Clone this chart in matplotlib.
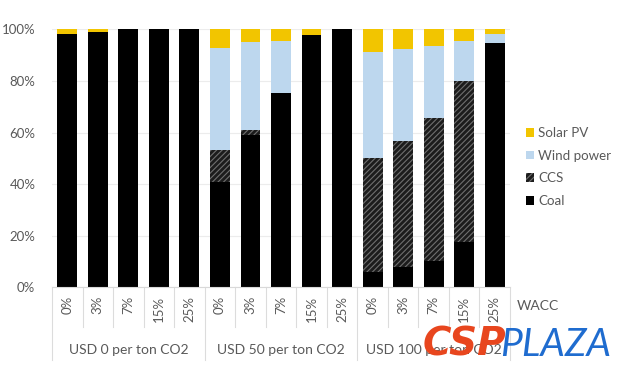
import matplotlib
matplotlib.use("Agg")
import matplotlib.pyplot as plt
import numpy as np
from matplotlib.patches import Patch

plt.rcParams['font.family'] = ['Lato', 'DejaVu Sans']
plt.rcParams['hatch.linewidth'] = 0.8

wacc = ["0%", "3%", "7%", "15%", "25%"]
groups = ["USD 0 per ton CO2", "USD 50 per ton CO2", "USD 100 per ton CO2"]
tick_labels = wacc * 3

coal  = [98.3, 99.1, 100, 100, 100,  40.9, 59.0, 75.2, 97.8, 100,  6.0, 8.0, 10.2, 17.7, 94.6]
ccs   = [0, 0, 0, 0, 0,               12.3, 2.0, 0, 0, 0,          44.0, 48.7, 55.5, 62.3, 0]
wind  = [0, 0, 0, 0, 0,               39.7, 34.2, 20.4, 0, 0,      41.1, 35.5, 27.8, 15.5, 3.5]
solar = [1.7, 0.9, 0, 0, 0,           7.1, 4.8, 4.4, 2.2, 0,       8.9, 7.8, 6.5, 4.5, 1.9]

c_coal = "#000000"
c_ccs = "#1c1c1c"
c_wind = "#bdd7ee"
c_solar = "#f2c500"
hatch_col = "#6f6f6f"
txt = "#595959"

fig = plt.figure(figsize=(6.2, 3.72), dpi=100)
ax = fig.add_axes([52/620, 1-287.3/372, 458/620, 258/372])

x = np.arange(len(coal))
w = 0.65
coal_a = np.array(coal); ccs_a = np.array(ccs); wind_a = np.array(wind); solar_a = np.array(solar)
ax.bar(x, coal_a, w, color=c_coal, zorder=2)
ax.bar(x, ccs_a, w, bottom=coal_a, facecolor=c_ccs, edgecolor=hatch_col, hatch="//////", linewidth=0, zorder=2)
ax.bar(x, wind_a, w, bottom=coal_a+ccs_a, color=c_wind, zorder=2)
ax.bar(x, solar_a, w, bottom=coal_a+ccs_a+wind_a, color=c_solar, zorder=2)

ax.set_xlim(-0.5, len(coal)-0.5)
ax.set_ylim(0, 100)
ax.set_yticks([0, 20, 40, 60, 80, 100])
ax.set_yticklabels([f"{v}%" for v in [0, 20, 40, 60, 80, 100]], color=txt, fontsize=9.5)
ax.tick_params(axis='y', length=0, pad=12)
ax.set_xticks(x)
ax.set_xticklabels(tick_labels, rotation=90, color=txt, fontsize=9.5)
ax.tick_params(axis='x', length=0, pad=6)
ax.grid(axis='y', color="#ececec", linewidth=0.8, zorder=0)
for s in ['top', 'right', 'left']:
    ax.spines[s].set_visible(False)
ax.spines['bottom'].set_color("#d9d9d9")

# category separators below axis
trans = ax.get_xaxis_transform()
for i in range(len(coal)+1):
    xb = i - 0.5
    is_group = (i % 5 == 0)
    y1 = -(360-287.3)/258 if is_group else -(327-287.3)/258
    ax.plot([xb, xb], [0, y1], transform=trans, color="#dcdcdc", lw=0.8, clip_on=False)

for gi, g in enumerate(groups):
    ax.text(gi*5+2, -(350-287.3)/258, g, transform=trans, ha='center', va='center',
            color=txt, fontsize=10)

ax.text(517/620, 1-306/372, "WACC", transform=fig.transFigure, ha='left', va='center',
        color=txt, fontsize=10)

handles = [Patch(facecolor=c_solar, label="Solar PV"),
           Patch(facecolor=c_wind, label="Wind power"),
           Patch(facecolor=c_ccs, edgecolor=hatch_col, hatch="//////", linewidth=0, label="CCS"),
           Patch(facecolor=c_coal, label="Coal")]
leg = fig.legend(handles=handles, loc='upper left', bbox_to_anchor=(514/620, 1-115/372),
                 frameon=False, fontsize=9.6, handlelength=0.6, handleheight=0.6,
                 handletextpad=0.3, labelspacing=0.8, labelcolor=txt)

# watermark
fig.text(423/620, 1-345/372, "CSP", color="#e8461e", fontsize=28, fontweight='heavy',
         style='italic', family='DejaVu Sans', ha='left', va='center', zorder=10)
fig.text(500/620, 1-345/372, "PLAZA", color="#1f6ccf", fontsize=28, fontweight='normal',
         style='italic', family=['Lato', 'DejaVu Sans'], ha='left', va='center', zorder=10)

fig.savefig("out.png", dpi=100)
